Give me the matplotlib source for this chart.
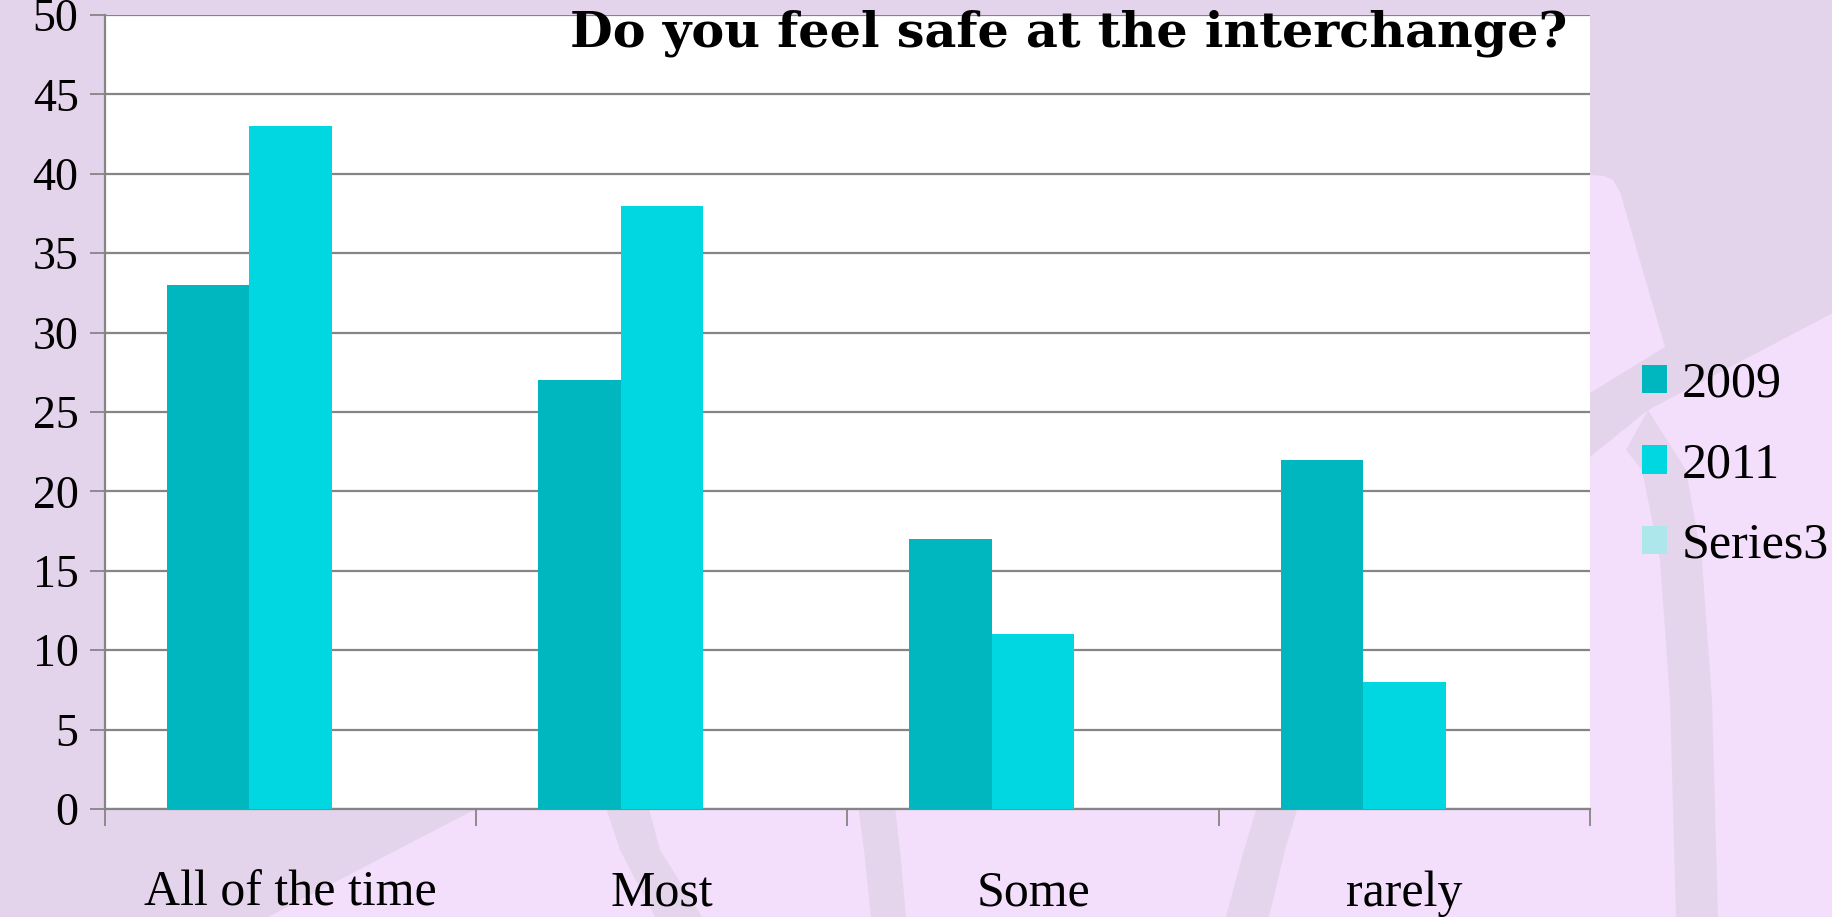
import matplotlib
matplotlib.use("Agg")
import matplotlib.pyplot as plt
from matplotlib.patches import Polygon
import numpy as np

# Survey data
categories = ["All of the time", "Most", "Some", "rarely"]
series_names = ["2009", "2011", "Series3"]
values_2009 = [33, 27, 17, 22]
values_2011 = [43, 38, 11, 8]
values_series3 = [0, 0, 0, 0]
y_ticks = [0, 5, 10, 15, 20, 25, 30, 35, 40, 45, 50]
title_text = "Do you feel safe at the interchange?"

colors = ["#00B7BF", "#00D7E1", "#ADE7EB"]
dark_bg = "#E4D4EB"
light_bg = "#F3DEFB"
grid_gray = "#858585"

W, H = 1833, 917
fig = plt.figure(figsize=(W / 100, H / 100), dpi=100, facecolor=light_bg)
plt.rcParams["font.family"] = ["Liberation Serif", "DejaVu Serif"]

# Decorative background layer in pixel coordinates
bg = fig.add_axes([0, 0, 1, 1], zorder=-5)
bg.set_xlim(0, W)
bg.set_ylim(H, 0)
bg.axis("off")
bg.set_facecolor(light_bg)

# main darker region (left, top, lower-left wedge, upper right)
bg.add_patch(Polygon([(0, 0), (W, 0), (W, 313), (1648, 410), (1590, 457),
                      (900, 700), (470, 812), (268, 917), (0, 917)],
                     closed=True, facecolor=dark_bg, edgecolor="none"))
# lighter rounded piece cutting into the upper right
bg.add_patch(Polygon([(1590, 175), (1604, 176), (1613, 180), (1620, 192),
                      (1665, 347), (1590, 393)],
                     closed=True, facecolor=light_bg, edgecolor="none"))
# lighter piece under the diagonal band
bg.add_patch(Polygon([(1590, 457), (1605, 446), (1616, 443), (1626, 450),
                      (1650, 560), (1666, 917), (1590, 917)],
                     closed=True, facecolor=light_bg, edgecolor="none"))
# curved stripes
stripes = [
    [(1626, 450), (1648, 410), (1686, 470), (1702, 560), (1712, 700),
     (1718, 917), (1676, 917), (1670, 700), (1660, 560), (1642, 470)],
    [(600, 790), (644, 790), (660, 850), (702, 917), (655, 917), (620, 850)],
    [(856, 790), (893, 790), (900, 850), (906, 917), (871, 917), (864, 850)],
    [(1262, 790), (1303, 790), (1285, 850), (1269, 917), (1226, 917), (1244, 850)],
]
for pts in stripes:
    bg.add_patch(Polygon(pts, closed=True, facecolor=dark_bg, edgecolor="none",
                         alpha=0.9))

# Chart axes
left, right, top, bottom = 105, 1590, 15, 809
ax = fig.add_axes([left / W, 1 - bottom / H, (right - left) / W, (bottom - top) / H])
ax.set_facecolor("white")

x = np.arange(len(categories))
width = 0.222
series = [values_2009, values_2011, values_series3]
for i, (name, vals) in enumerate(zip(series_names, series)):
    ax.bar(x + (i - 1) * width, vals, width, color=colors[i], label=name,
           zorder=3, linewidth=0)

ax.set_xlim(-0.5, len(categories) - 0.5)
ax.set_ylim(0, 50)
ax.set_yticks(y_ticks)
ax.set_yticklabels([str(v) for v in y_ticks], fontsize=33)
ax.yaxis.grid(True, color=grid_gray, linewidth=1.6, zorder=0)
ax.set_axisbelow(True)

# category boundaries carry tick marks, centres carry labels
ax.set_xticks(np.arange(-0.5, len(categories)), minor=False)
ax.set_xticklabels([])
ax.set_xticks(x, minor=True)
ax.set_xticklabels(categories, minor=True, fontsize=36)
ax.tick_params(axis="x", which="major", length=12, width=1.3, color=grid_gray,
               direction="out")
ax.tick_params(axis="x", which="minor", length=0, pad=44)
ax.tick_params(axis="y", length=11, width=1.3, color=grid_gray, pad=8)

for side in ["top", "right"]:
    ax.spines[side].set_visible(False)
for side in ["left", "bottom"]:
    ax.spines[side].set_color(grid_gray)
    ax.spines[side].set_linewidth(1.6)

ax.text((1567 - left) / (right - left), (bottom - 33) / (bottom - top), title_text,
        transform=ax.transAxes, ha="right", va="center", fontsize=35.5,
        fontweight="bold", family=["DejaVu Serif"], zorder=5)

handles, labels = ax.get_legend_handles_labels()
fig.legend(handles, labels, loc="center left", bbox_to_anchor=(1642 / W, 1 - 465 / H),
           frameon=False, fontsize=36, handlelength=0.5, handleheight=0.5,
           handletextpad=0.3, labelspacing=0.68, borderpad=0, borderaxespad=0)

fig.savefig("out.png", dpi=100, facecolor=light_bg)
